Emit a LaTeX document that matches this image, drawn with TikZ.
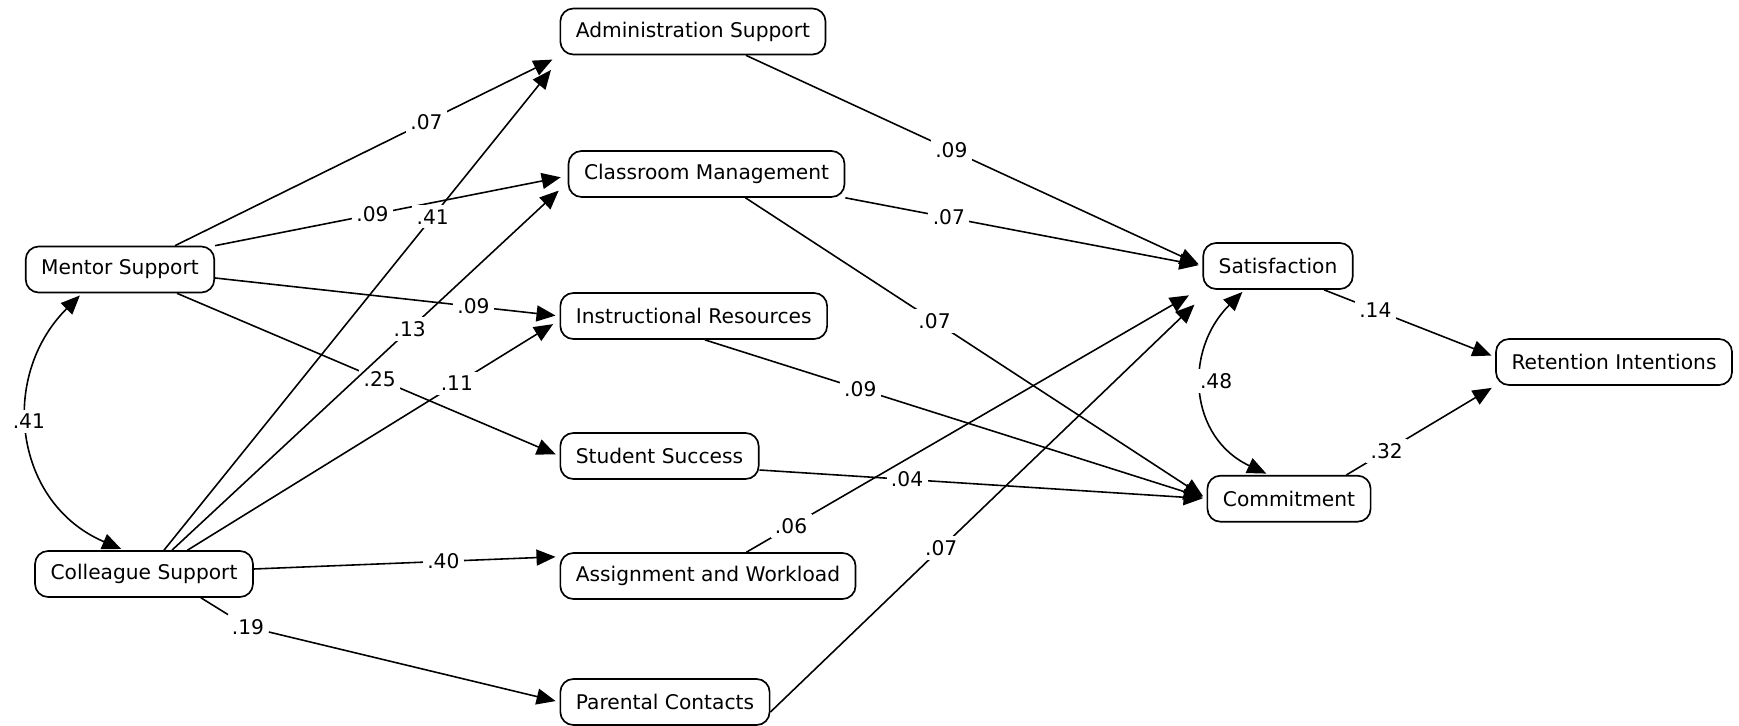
\documentclass[tikz,border=0pt]{standalone}
\usepackage{fontspec}
\setmainfont{DejaVu Sans}
\usepackage{xcolor}
\usetikzlibrary{arrows.meta,positioning}

\begin{document}
\begin{tikzpicture}[x=0.2mm, y=-0.2mm, font=\fontsize{11.5}{13}\selectfont, box/.style={draw, line width=0.95pt, rounded corners=2.6mm, minimum height=9.2mm, inner xsep=3.1mm}, arr/.style={-{Triangle[length=3.8mm,width=3.2mm]}, line width=0.9pt, shorten >=0.8mm}, cor/.style={{Triangle[length=3.8mm,width=3.2mm]}-{Triangle[length=3.8mm,width=3.2mm]}, line width=0.9pt, shorten >=0.6mm, shorten <=0.6mm}, lbl/.style={fill=white, inner sep=2.5pt}]
\useasboundingbox (0,0) rectangle (1739,726);
% predictors
\node[box] (mentor) at (120,269.5) {Mentor Support};
\node[box] (coll) at (144,574) {Colleague Support};
% mediators
\node[box, anchor=west] (admin) at (559.5,31.5) {Administration Support};
\node[box] (class) at (706.5,174) {Classroom Management};
\node[box, anchor=west] (instr) at (559.5,316) {Instructional Resources};
\node[box, anchor=west] (stud) at (559.5,456) {Student Success};
\node[box, anchor=west] (assign) at (559.5,576) {Assignment and Workload};
\node[box, anchor=west] (parent) at (559.5,702) {Parental Contacts};
% outcomes
\node[box] (satis) at (1278,266) {Satisfaction};
\node[box] (commit) at (1289,498.7) {Commitment};
\node[box] (retent) at (1614,362) {Retention Intentions};

\draw[arr] ([xshift=11mm]mentor.north) -- node[lbl,pos=0.66]{.07} ([shift={(-0.7mm,-0.5mm)}]admin.south west);
\draw[arr] (mentor.north east) -- node[lbl,pos=0.45]{.09} ([shift={(-0.6mm,-0.5mm)}]class.west);
\draw[arr] ([yshift=-1.7mm]mentor.east) -- node[lbl,pos=0.75]{.09} (instr.west);
\draw[arr] ([xshift=11.4mm]mentor.south) -- node[lbl,pos=0.53]{.25} (stud.west);
\draw[arr] ([xshift=4mm]coll.north) -- node[lbl,pos=0.69]{.41} ([shift={(-1.2mm,-2.3mm)}]admin.south west);
\draw[arr] ([xshift=5.6mm]coll.north) -- node[lbl,pos=0.61]{.13} ([shift={(-1.2mm,2mm)}]class.south west);
\draw[arr] ([xshift=8.7mm]coll.north) -- node[lbl,pos=0.73]{.11} ([shift={(-0.6mm,-1.2mm)}]instr.west);
\draw[arr] ([yshift=1mm]coll.east) -- node[lbl,pos=0.62]{.40} ([yshift=-0.9mm]assign.north west);
\node[lbl] (w19) at (248,627) {.19};
\draw[arr] ([xshift=11.4mm]coll.south) -- (w19) -- (parent.west);
\draw[cor] ([xshift=-7.6mm]mentor.south) to[out=225,in=157,looseness=1.17] node[lbl,pos=0.45]{.41} ([xshift=-4mm]coll.north);

\draw[arr] ([xshift=10.6mm]admin.south) -- node[lbl,pos=0.45]{.09} (satis.west);
\draw[arr] (class.south east) -- node[lbl,pos=0.29]{.07} (satis.west);
\draw[arr] ([xshift=7.8mm]class.south) -- node[lbl,pos=0.41]{.07} (commit.west);
\draw[arr] ([xshift=2.2mm]instr.south) -- node[lbl,pos=0.31]{.09} (commit.west);
\draw[arr] ([yshift=-2.8mm]stud.east) -- node[lbl,pos=0.33]{.04} (commit.west);
\draw[arr] ([xshift=7.7mm]assign.north) -- node[lbl,pos=0.1]{.06} ([shift={(-2mm,-0.7mm)}]satis.south west);
\draw[arr] ([yshift=-2mm]parent.east) -- node[lbl,pos=0.4]{.07} ([shift={(-1mm,-2.4mm)}]satis.south west);
\draw[cor] ([xshift=-6.7mm]satis.south) to[out=225,in=155,looseness=1.2] node[lbl,pos=0.45,xshift=2.6mm]{.48} ([xshift=-4mm]commit.north);
\draw[arr] ([xshift=9.2mm]satis.south) -- node[lbl,pos=0.3]{.14} ([yshift=1mm]retent.west);
\draw[arr] ([xshift=11.5mm]commit.north) -- node[lbl,pos=0.27]{.32} (retent.south west);
\end{tikzpicture}
\end{document}
